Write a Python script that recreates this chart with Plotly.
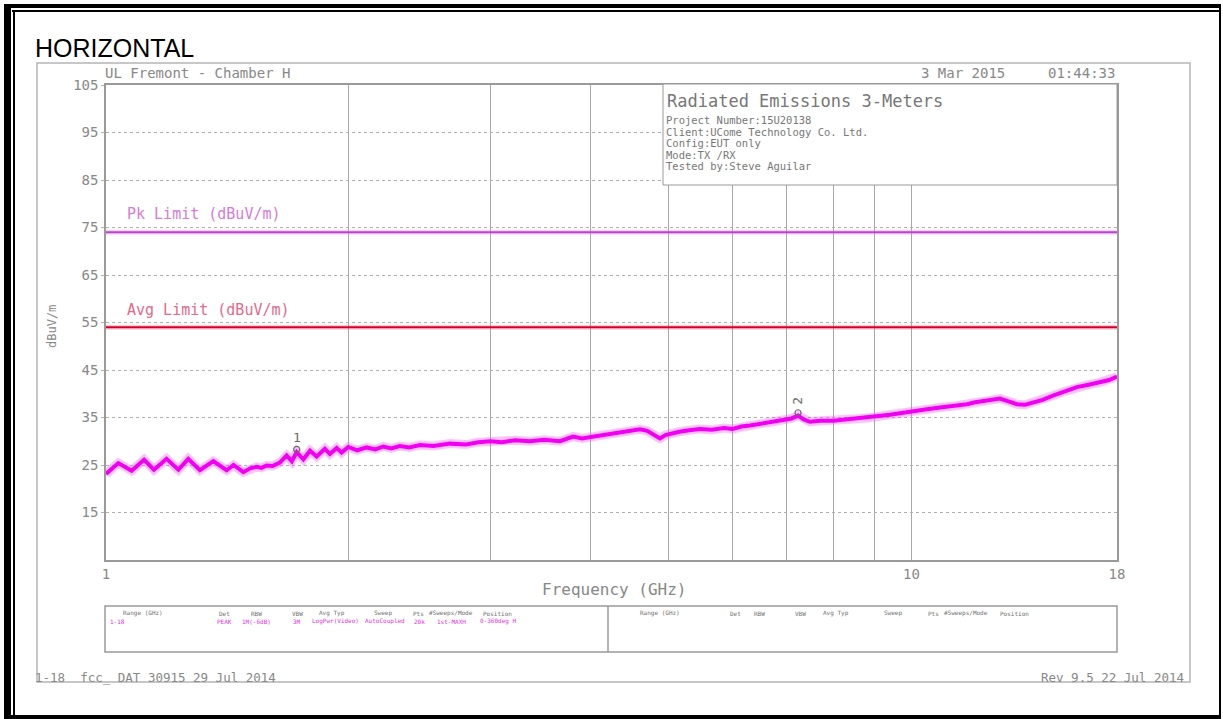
import math
import plotly.graph_objects as go

# ---------------- data ----------------
freq_ghz = [1.000, 1.036, 1.076, 1.115, 1.147, 1.189, 1.230, 1.265, 1.308, 1.359,
            1.412, 1.440, 1.481, 1.510, 1.539, 1.560, 1.583, 1.610, 1.644, 1.676,
            1.701, 1.725, 1.758, 1.792, 1.826, 1.870, 1.897, 1.934, 1.961, 1.999,
            2.050, 2.107, 2.160, 2.210, 2.260, 2.317, 2.380, 2.454, 2.550, 2.674,
            2.800, 2.900, 3.000, 3.100, 3.220, 3.360, 3.500, 3.662, 3.801, 3.900,
            4.000, 4.140, 4.285, 4.450, 4.603, 4.700, 4.763, 4.873, 4.950, 5.015,
            5.150, 5.300, 5.464, 5.650, 5.850, 6.000, 6.150, 6.303, 6.450, 6.617,
            6.800, 6.966, 7.100, 7.232, 7.350, 7.482, 7.700, 8.000, 8.250, 8.500,
            8.809, 9.100, 9.406, 9.700, 10.00, 10.40, 10.85, 11.30, 11.72, 12.00,
            12.34, 12.60, 12.88, 13.20, 13.52, 13.85, 14.16, 14.55, 14.99, 15.50,
            16.05, 16.60, 17.15, 17.60, 18.00]
level_dbuv = [23.1, 25.4, 23.8, 26.1, 24.0, 26.3, 24.0, 26.3, 23.9, 25.8,
              23.9, 25.0, 23.5, 24.3, 24.6, 24.4, 24.9, 24.8, 25.5, 27.0,
              25.8, 27.7, 26.2, 28.0, 26.8, 28.4, 27.3, 28.6, 27.6, 28.8,
              28.1, 28.7, 28.3, 28.9, 28.5, 29.0, 28.7, 29.2, 29.0, 29.5,
              29.3, 29.8, 30.0, 29.8, 30.2, 30.0, 30.3, 30.0, 31.0, 30.6,
              30.9, 31.3, 31.5, 32.0, 32.5, 32.2, 31.6, 30.6, 31.3, 31.6,
              32.0, 32.3, 32.6, 32.4, 32.8, 32.6, 33.1, 33.3, 33.6, 33.9,
              34.1, 34.4, 34.8, 35.4, 34.6, 34.1, 34.3, 34.3, 34.5, 34.7,
              34.9, 35.3, 35.6, 36.0, 36.4, 36.7, 37.1, 37.4, 37.8, 38.2,
              38.6, 38.9, 39.0, 38.4, 37.8, 37.7, 38.1, 38.7, 39.6, 40.5,
              41.4, 41.9, 42.4, 42.9, 43.6]

marker_ids = ["1", "2"]
marker_freq = [1.725, 7.232]
marker_level = [28.3, 36.0]

pk_limit = 74
avg_limit = 54
pk_label = "Pk Limit (dBuV/m)"
avg_label = "Avg Limit (dBuV/m)"

y_ticks = [15, 25, 35, 45, 55, 65, 75, 85, 95, 105]
x_ticks = [1, 10, 18]
x_grid = [2, 3, 4, 5, 6, 7, 8, 9]
x_range_ghz = [1, 18]
y_range = [5, 105]

info_title = "Radiated Emissions 3-Meters"
info_lines = ["Project Number:15U20138",
              "Client:UCome Technology Co. Ltd.",
              "Config:EUT only",
              "Mode:TX /RX",
              "Tested by:Steve Aguilar"]

table_headers = ["Range (GHz)", "Det", "RBW", "VBW", "Avg Typ", "Sweep", "Pts",
                 "#Sweeps/Mode", "Position"]
table_values = ["1-18", "PEAK", "1M(-6dB)", "3M", "LogPwr(Video)", "AutoCoupled",
                "20k", "1st-MAXH", "0-360deg H"]

# ---------------- layout helpers ----------------
W, H = 1223, 719
ML, MR, MT, MB = 106, 106, 85, 159
PW, PH = W - ML - MR, H - MT - MB


def px(x):
    return (x - ML) / PW


def py(y):
    return 1 - (y - MT) / PH


GREY = "#888888"
MONO = "DejaVu Sans Mono"

fig = go.Figure()

# limit lines
fig.add_trace(go.Scatter(x=x_range_ghz, y=[pk_limit, pk_limit], mode="lines",
                         line=dict(color="rgba(255,120,255,0.35)", width=5),
                         hoverinfo="skip", showlegend=False))
fig.add_trace(go.Scatter(x=x_range_ghz, y=[pk_limit, pk_limit], mode="lines",
                         line=dict(color="#b048c8", width=2),
                         showlegend=False))
fig.add_trace(go.Scatter(x=x_range_ghz, y=[avg_limit, avg_limit], mode="lines",
                         line=dict(color="rgba(255,110,140,0.35)", width=5),
                         hoverinfo="skip", showlegend=False))
fig.add_trace(go.Scatter(x=x_range_ghz, y=[avg_limit, avg_limit], mode="lines",
                         line=dict(color="#d4002c", width=2.2),
                         showlegend=False))

# measurement trace (halo + core)
fig.add_trace(go.Scatter(x=freq_ghz, y=level_dbuv, mode="lines",
                         line=dict(color="rgba(255,80,255,0.35)", width=9),
                         hoverinfo="skip", showlegend=False))
fig.add_trace(go.Scatter(x=freq_ghz, y=level_dbuv, mode="lines",
                         line=dict(color="#f000f0", width=4),
                         showlegend=False))

# markers
fig.add_trace(go.Scatter(x=marker_freq, y=marker_level, mode="markers",
                         marker=dict(symbol="circle-open", size=6,
                                     color="#6a6a6a", line=dict(width=1.2)),
                         showlegend=False))
for mid, mf, ml in zip(marker_ids, marker_freq, marker_level):
    fig.add_annotation(x=math.log10(mf), y=ml, xref="x", yref="y", text=mid,
                       showarrow=False, yshift=12,
                       textangle=0 if mid == "1" else -90,
                       font=dict(family=MONO, size=13, color="#6a6a6a"))

# ---------------- shapes ----------------
shapes = []


def rect(x0, y0, x1, y1, fill=None, line=None, lw=0, layer="above"):
    shapes.append(dict(type="rect", xref="paper", yref="paper",
                       x0=px(x0), x1=px(x1), y0=py(y1), y1=py(y0),
                       fillcolor=fill if fill else "rgba(0,0,0,0)",
                       line=dict(color=line if line else "rgba(0,0,0,0)",
                                 width=lw),
                       layer=layer))


def vline(x, y0, y1, color, lw):
    shapes.append(dict(type="line", xref="paper", yref="paper",
                       x0=px(x), x1=px(x), y0=py(y0), y1=py(y1),
                       line=dict(color=color, width=lw), layer="above"))


# outer double black border
rect(4, 4, 1221, 8, fill="black")
rect(4, 4, 11, 719, fill="black")
rect(12, 10, 1219, 12, fill="black")
rect(13, 10, 15, 719, fill="black")
rect(4, 715, 1221, 719, fill="black")
rect(1219, 4, 1221, 719, fill="black")

# scanned page border
rect(37, 63, 1190, 682, line="#b5b5b5", lw=1.5, layer="below")

# info box
rect(663, 84, 1117, 185, fill="white", line="#9a9a9a", lw=1)

# settings table
rect(105, 606, 1117, 652, line="#9a9a9a", lw=1.5)
vline(608, 606, 652, "#9a9a9a", 1.5)


# ---------------- text ----------------
def txt(x, y, s, size, color=GREY, family=MONO, xanchor="left", angle=0,
        pad=1):
    fig.add_annotation(x=px(x), y=py(y), xref="paper", yref="paper", text=s,
                       showarrow=False, xanchor=xanchor, yanchor="middle",
                       textangle=angle, borderpad=pad, borderwidth=0,
                       font=dict(family=family, size=size, color=color))


txt(34, 48, "HORIZONTAL", 25, color="black", family="Liberation Sans")
txt(104, 73, "UL Fremont - Chamber H", 14)
txt(1006, 73, "3 Mar 2015", 14, xanchor="right")
txt(1116, 73, "01:44:33", 14, xanchor="right")

txt(666, 101, info_title, 17, color="#777")
for i, line in enumerate(info_lines):
    txt(666, 120 + i * 11.5, line, 10.5, color="#777", pad=0)

txt(126, 214, pk_label, 15, color="#d77ad8")
txt(126, 310, avg_label, 15, color="#e46a8a")

txt(614, 589, "Frequency (GHz)", 16, xanchor="center")
txt(52, 327, "dBuV/m", 12, xanchor="center", angle=-90)

txt(34, 677, "1-18  fcc_ DAT 30915 29 Jul 2014", 12.5)
txt(1185, 677, "Rev 9.5 22 Jul 2014", 12.5, xanchor="right")

left_cols = [143, 224, 256, 297, 332, 383, 418, 451, 497]
right_cols = [660, 735, 759, 800, 836, 893, 933, 966, 1014]
val_cols = [110, 224, 256, 297, 335, 385, 419, 451, 498]
for cx, h in zip(left_cols, table_headers):
    txt(cx, 613, h, 6, color="#707070", xanchor="center", pad=0)
for cx, h in zip(right_cols, table_headers):
    txt(cx, 613, h, 6, color="#707070", xanchor="center", pad=0)
for i, (cx, v) in enumerate(zip(val_cols, table_values)):
    txt(cx, 621, v, 6, color="#e030e0", xanchor="left" if i == 0 else "center",
        pad=0)

# ---------------- axes ----------------
fig.update_layout(
    width=W, height=H, autosize=False,
    margin=dict(l=ML, r=MR, t=MT, b=MB, pad=0),
    paper_bgcolor="white", plot_bgcolor="white",
    shapes=shapes, showlegend=False,
    xaxis=dict(type="log",
               range=[math.log10(x_range_ghz[0]), math.log10(x_range_ghz[1])],
               tickmode="array", tickvals=x_ticks,
               ticktext=[str(v) for v in x_ticks],
               showgrid=True, gridcolor="#a8a8a8", gridwidth=1,
               minor=dict(tickmode="array", tickvals=x_grid, showgrid=True,
                          gridcolor="#a8a8a8", gridwidth=1, ticks=""),
               showline=True, linecolor="#9a9a9a", linewidth=1.5, mirror=True,
               ticks="", zeroline=False,
               tickfont=dict(family=MONO, size=14, color=GREY)),
    yaxis=dict(range=y_range, tickmode="array", tickvals=y_ticks,
               ticktext=[str(v) for v in y_ticks],
               showgrid=True, gridcolor="#b0b0b0", gridwidth=1, griddash="dot",
               showline=True, linecolor="#9a9a9a", linewidth=1.5, mirror=True,
               ticks="outside", ticklen=3, tickcolor="#b0b0b0", zeroline=False,
               tickfont=dict(family=MONO, size=14, color=GREY)),
)

fig.write_html("out.html", config={"displayModeBar": False})
